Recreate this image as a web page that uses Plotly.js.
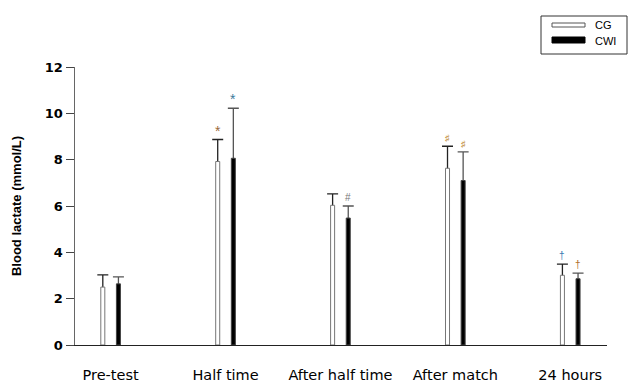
<!DOCTYPE html>
<html>
<head>
<meta charset="utf-8">
<script src="https://cdn.plot.ly/plotly-3.0.1.min.js"></script>
<style>
html,body{margin:0;padding:0;background:#fff;}
#chart{width:631px;height:382px;}
</style>
</head>
<body>
<div id="chart"></div>
<script>
// ---- data ----
const categories = ['Pre-test', 'Half time', 'After half time', 'After match', '24 hours'];
const cgMean  = [2.50, 7.92, 6.03, 7.63, 3.01];
const cgTop   = [3.03, 8.87, 6.52, 8.58, 3.49];   // mean + SD
const cwiMean = [2.64, 8.06, 5.48, 7.10, 2.86];
const cwiTop  = [2.94, 10.22, 6.00, 8.34, 3.10];  // mean + SD
const cgMarks  = ['', '*', '', '♯', '†'];
const cwiMarks = ['', '*', '#', '♯', '†'];
const seriesNames = ['CG', 'CWI'];
const yTicks = [0, 2, 4, 6, 8, 10, 12];

// ---- style ----
const W = 631, H = 382;
const M = {l: 75, r: 24, t: 67, b: 37};
const barW = 0.035, barOff = 0.068;
const markColors = {'*': ['#9a6a3a', '#3a7a9a'], '#': ['#777', '#777'], '♯': ['#c08a30', '#c08a30'], '†': ['#3a7ab0', '#b0702a']};
const px2x = p => (p - M.l) / (W - M.l - M.r);
const px2y = p => (H - M.b - p) / (H - M.t - M.b);

function errTrace(mean, top, offset, color) {
  return {
    type: 'bar', x: categories, y: mean, width: barW, offset: offset,
    marker: {color: 'rgba(0,0,0,0)', line: {width: 0}},
    // lower whisker runs below the axis so its end is clipped away; the bars hide the stem
    error_y: {type: 'data', symmetric: false,
      array: top.map((t, i) => t - mean[i]), arrayminus: mean.map(v => v + 1),
      color: color, thickness: 1.3, width: 5.5},
    showlegend: false, hoverinfo: 'skip'
  };
}

const traces = [
  errTrace(cgMean, cgTop, -barOff - barW / 2, '#222'),
  errTrace(cwiMean, cwiTop, barOff - barW / 2, '#555'),
  {type: 'bar', name: seriesNames[0], x: categories, y: cgMean, width: barW, offset: -barOff - barW / 2,
   marker: {color: '#ffffff', line: {color: '#777', width: 1}}, showlegend: false},
  {type: 'bar', name: seriesNames[1], x: categories, y: cwiMean, width: barW, offset: barOff - barW / 2,
   marker: {color: '#000000', line: {color: '#444', width: 1}}, showlegend: false}
];

const annotations = [];
categories.forEach((c, i) => {
  [[cgMarks, cgTop, -1], [cwiMarks, cwiTop, 1]].forEach(([marks, top, side], s) => {
    const m = marks[i];
    if (!m) return;
    annotations.push({x: c, y: top[i], xref: 'x', yref: 'y', text: m, showarrow: false,
      xanchor: 'center', yanchor: 'bottom', xshift: side * 7.8, yshift: (m === '*') ? -1 : 1,
      font: {family: 'Liberation Sans, DejaVu Sans', size: m === '*' ? 14 : (m === '♯' ? 9 : 10), color: markColors[m][s]}});
  });
});
// legend labels
annotations.push({xref: 'paper', yref: 'paper', x: px2x(593), y: px2y(25), text: seriesNames[0], showarrow: false,
  xanchor: 'left', yanchor: 'middle', font: {family: 'Liberation Sans, Arial', size: 11, color: '#000'}});
annotations.push({xref: 'paper', yref: 'paper', x: px2x(593), y: px2y(41), text: seriesNames[1], showarrow: false,
  xanchor: 'left', yanchor: 'middle', font: {family: 'Liberation Sans, Arial', size: 11, color: '#000'}});

const shapes = [
  {type: 'rect', xref: 'paper', yref: 'paper', x0: px2x(541), x1: px2x(627), y0: px2y(16), y1: px2y(54),
   line: {color: '#333', width: 1}, fillcolor: 'rgba(0,0,0,0)'},
  {type: 'rect', xref: 'paper', yref: 'paper', x0: px2x(552), x1: px2x(585), y0: px2y(23), y1: px2y(27),
   line: {color: '#555', width: 1}, fillcolor: '#fff'},
  {type: 'rect', xref: 'paper', yref: 'paper', x0: px2x(552), x1: px2x(585), y0: px2y(37), y1: px2y(43),
   line: {color: '#000', width: 1}, fillcolor: '#000'}
];

const layout = {
  width: W, height: H,
  margin: M,
  paper_bgcolor: '#fff', plot_bgcolor: '#fff',
  barmode: 'overlay',
  showlegend: false,
  font: {family: 'Liberation Sans, Arial', color: '#000'},
  xaxis: {
    type: 'category', range: [-0.31, 4.32],
    showline: true, linecolor: '#222', linewidth: 1,
    ticks: '', showgrid: false, zeroline: false,
    tickfont: {family: 'DejaVu Sans', size: 14.5, color: '#000'},
    ticklabelstandoff: 17
  },
  yaxis: {
    range: [0, 12], tickvals: yTicks, ticktext: yTicks.map(String),
    showline: true, linecolor: '#666', linewidth: 1.5,
    ticks: 'outside', ticklen: 8, tickcolor: '#444', tickwidth: 1,
    showgrid: false, zeroline: false,
    tickfont: {family: 'DejaVu Sans', size: 13, weight: 'bold', color: '#000'},
    title: {text: 'Blood lactate (mmol/L)', standoff: 20,
      font: {family: 'Liberation Sans, Arial', size: 13, weight: 'bold', color: '#000'}}
  },
  shapes: shapes,
  annotations: annotations
};

Plotly.newPlot('chart', traces, layout, {displayModeBar: false, staticPlot: true});
</script>
</body>
</html>
